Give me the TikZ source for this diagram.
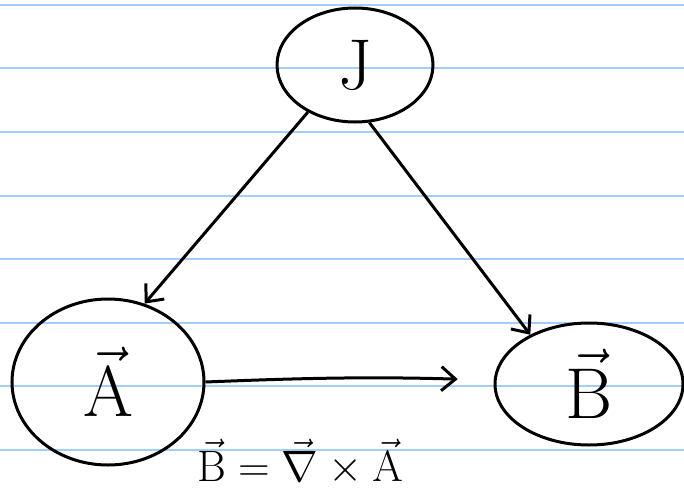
\RequirePackage{fix-cm}
\documentclass[tikz,border=0pt]{standalone}
\usepackage{amsmath,amssymb}
\usetikzlibrary{shapes.geometric,arrows.meta}
\definecolor{ruleblue}{RGB}{165,205,250}

\begin{document}
\begin{tikzpicture}[x=1pt, y=-1pt, >={Straight Barb[length=14pt,width=24pt]},
    blob/.style={ellipse, draw=black, line width=3pt, inner sep=0pt, font=\fontsize{72}{76}\selectfont},
    edge/.style={->, line width=3pt, draw=black},
    rule/.style={draw=ruleblue, line width=2pt}]

\useasboundingbox (0,0) rectangle (684,500);
\fill[white] (0,0) rectangle (684,500);

% ruled paper
\foreach \y in {5,68.5,132,195.5,259,322.5,386,449.5}
  \draw[rule] (0,\y) -- (684,\y);

\node [blob, minimum width=156pt, minimum height=114pt] (J) at (355,65) {$\mathrm{J}$};
\node [blob, minimum width=192pt, minimum height=166pt] (A) at (108,382) {$\vec{\mathrm{A}}$};
\node [blob, minimum width=188pt, minimum height=122pt] (B) at (589,384) {$\vec{\mathrm{B}}$};

\draw [edge] (J.225) -- (A.65);
\draw [edge] (J.284) -- (B.140);
\draw [edge, shorten >=36pt] (A.east) to[bend left=2] (B);

\node [font=\fontsize{44}{48}\selectfont, inner sep=0pt] (curl) at (300,462) {$\vec{\mathrm{B}} = \vec{\nabla} \times \vec{\mathrm{A}}$};

\end{tikzpicture}
\end{document}
